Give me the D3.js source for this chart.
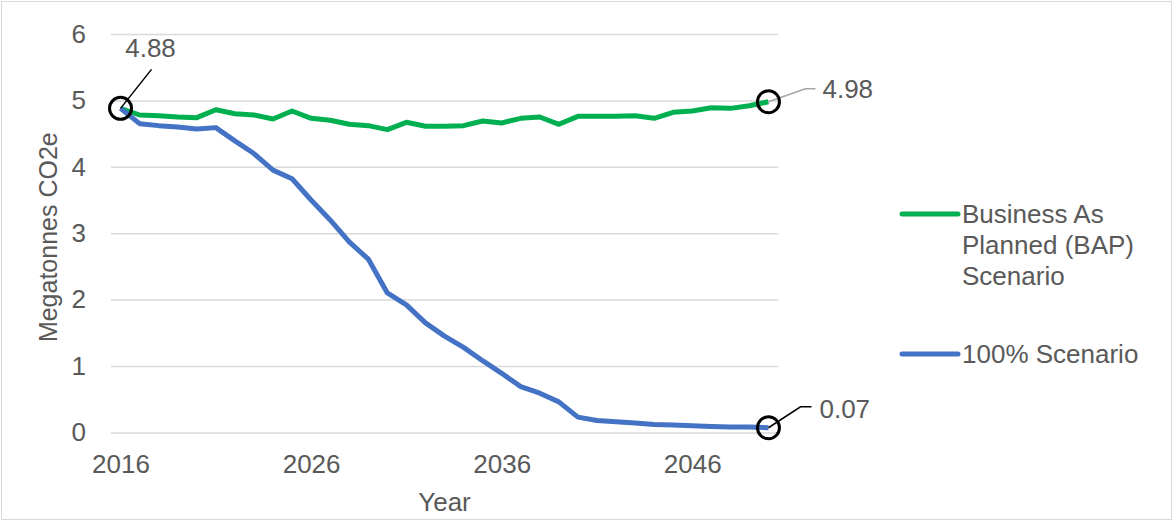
<!DOCTYPE html>
<html>
<head>
<meta charset="utf-8">
<script src="https://cdn.jsdelivr.net/npm/d3@7"></script>
<style>
  html, body { margin: 0; padding: 0; background: #fff; }
  svg text { font-family: Arial, "Liberation Sans", sans-serif; fill: #595959; }
</style>
</head>
<body>
<svg id="chart" width="1173" height="521"></svg>
<script>
// Annual emissions, megatonnes CO2e, 2016–2050
const years = d3.range(2016, 2051);
const bapValues = [
  4.88, 4.78, 4.77, 4.75, 4.74, 4.86, 4.80, 4.78, 4.72, 4.84,
  4.73, 4.70, 4.64, 4.62, 4.56, 4.67, 4.61, 4.61, 4.62, 4.69,
  4.66, 4.73, 4.75, 4.64, 4.76, 4.76, 4.76, 4.77, 4.73, 4.82,
  4.84, 4.89, 4.88, 4.92, 4.98
];
const scenario100Values = [
  4.88, 4.65, 4.62, 4.60, 4.57, 4.59, 4.39, 4.20, 3.95, 3.82,
  3.50, 3.20, 2.87, 2.61, 2.10, 1.92, 1.65, 1.45, 1.28, 1.08,
  0.89, 0.69, 0.59, 0.46, 0.23, 0.18, 0.16, 0.14, 0.12, 0.11,
  0.10, 0.09, 0.08, 0.08, 0.07
];
const seriesNames = ["Business As Planned (BAP) Scenario", "100% Scenario"];
const yTicks = [0, 1, 2, 3, 4, 5, 6];
const xTickYears = [2016, 2026, 2036, 2046];

const svg = d3.select("#chart");
const W = 1173, H = 521;
const plot = { left: 111, right: 778, top: 34, bottom: 432.4 };
const FONT = 26;
const FAMILY = "Arial, 'Liberation Sans', sans-serif";

// outer frame
svg.append("rect")
  .attr("x", 1.5).attr("y", 1.5)
  .attr("width", W - 3).attr("height", H - 3)
  .attr("fill", "#fff").attr("stroke", "#d9d9d9").attr("stroke-width", 1);

const x = d3.scalePoint().domain(years).range([plot.left, plot.right]).padding(0.5);
const y = d3.scaleLinear().domain([0, 6]).range([plot.bottom, plot.top]);

// horizontal gridlines + y labels
const yAxis = d3.axisLeft(y).tickValues(yTicks).tickFormat(d3.format("d"))
  .tickSize(-(plot.right - plot.left)).tickPadding(25);
const gy = svg.append("g").attr("transform", `translate(${plot.left},0)`).call(yAxis);
gy.select(".domain").remove();
gy.selectAll(".tick line").attr("stroke", "#d9d9d9").attr("stroke-width", 1.5);
gy.selectAll(".tick text").attr("font-size", FONT).attr("fill", "#595959")
  .attr("font-family", FAMILY);

// x labels every ten years
const xAxis = d3.axisBottom(x).tickValues(xTickYears).tickSize(0).tickPadding(22);
const gx = svg.append("g").attr("transform", `translate(0,${plot.bottom})`).call(xAxis);
gx.select(".domain").remove();
gx.selectAll(".tick text").attr("font-size", FONT).attr("fill", "#595959")
  .attr("font-family", FAMILY);

// axis titles
svg.append("text")
  .attr("x", (plot.left + plot.right) / 2)
  .attr("y", 511)
  .attr("text-anchor", "middle")
  .attr("font-size", FONT)
  .text("Year");
svg.append("text")
  .attr("transform", `translate(57,${(plot.top + plot.bottom) / 2 + 4}) rotate(-90)`)
  .attr("text-anchor", "middle")
  .attr("font-size", 25)
  .text("Megatonnes CO2e");

// series lines
const line = d3.line().x((d, i) => x(years[i])).y(d => y(d));
const colors = ["#00b050", "#4472c4"];
[bapValues, scenario100Values].forEach((vals, k) => {
  svg.append("path")
    .datum(vals)
    .attr("fill", "none")
    .attr("stroke", colors[k])
    .attr("stroke-width", 5)
    .attr("stroke-linejoin", "round")
    .attr("d", line);
});

// highlighted values with leader lines
const lastYear = years[years.length - 1];
const callouts = [
  { year: years[0], value: bapValues[0], leader: "#000",
    path: p => [[p[0] + 31, p[1] - 39], [p[0], p[1]]],
    label: p => [p[0] + 30, p[1] - 60], anchor: "middle" },
  { year: lastYear, value: bapValues[bapValues.length - 1], leader: "#a6a6a6",
    path: p => [[p[0], p[1]], [p[0] + 37, p[1] - 13], [p[0] + 47, p[1] - 13]],
    label: p => [p[0] + 54, p[1] - 13], anchor: "start" },
  { year: lastYear, value: scenario100Values[scenario100Values.length - 1], leader: "#000",
    path: p => [[p[0], p[1]], [p[0] + 32, p[1] - 21], [p[0] + 43, p[1] - 21]],
    label: p => [p[0] + 51, p[1] - 19], anchor: "start" }
];
callouts.forEach(c => {
  const p = [x(c.year), y(c.value)];
  svg.append("path")
    .attr("d", d3.line()(c.path(p)))
    .attr("fill", "none").attr("stroke", c.leader).attr("stroke-width", 1.5);
  svg.append("circle")
    .attr("cx", p[0]).attr("cy", p[1]).attr("r", 11)
    .attr("fill", "none").attr("stroke", "#000").attr("stroke-width", 3);
  const lp = c.label(p);
  svg.append("text")
    .attr("x", lp[0]).attr("y", lp[1])
    .attr("dy", "0.35em")
    .attr("text-anchor", c.anchor)
    .attr("font-size", FONT)
    .text(c.value.toFixed(2));
});

// legend
const legend = [
  { color: colors[0], lines: ["Business As", "Planned (BAP)", "Scenario"], y: 214 },
  { color: colors[1], lines: [seriesNames[1]], y: 354 }
];
legend.forEach(item => {
  svg.append("line")
    .attr("x1", 902).attr("x2", 958)
    .attr("y1", item.y).attr("y2", item.y)
    .attr("stroke", item.color).attr("stroke-width", 5).attr("stroke-linecap", "round");
  const t = svg.append("text").attr("x", 962).attr("y", item.y).attr("font-size", FONT);
  item.lines.forEach((s, i) => {
    t.append("tspan").attr("x", 962).attr("dy", i === 0 ? "0.35em" : 31).text(s);
  });
});
</script>
</body>
</html>
